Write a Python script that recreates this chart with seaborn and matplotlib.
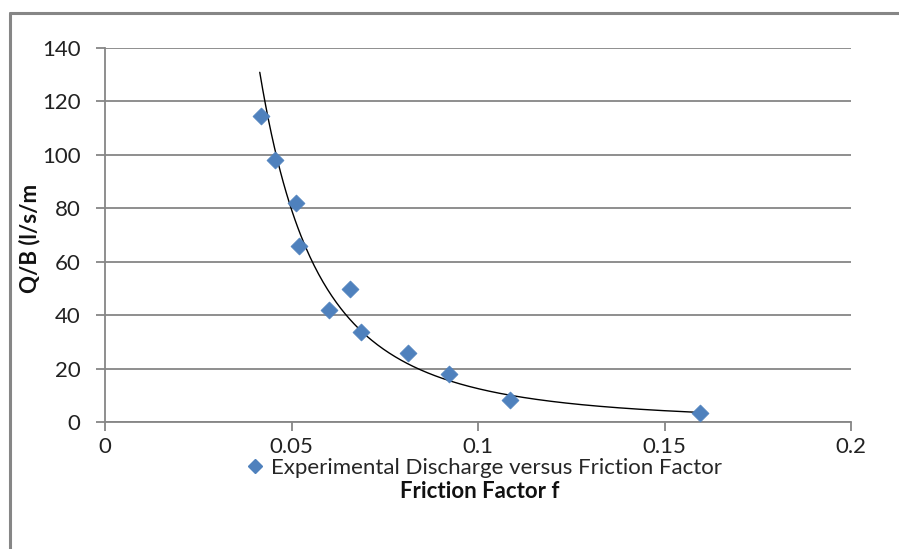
import numpy as np
import pandas as pd
import matplotlib
matplotlib.use("Agg")
import matplotlib.pyplot as plt
import seaborn as sns
from matplotlib.lines import Line2D

friction_factor = [0.0417, 0.0455, 0.0513, 0.0521, 0.0600, 0.0656, 0.0685, 0.0811, 0.0922, 0.1086, 0.1595]
discharge = [114.5, 98.0, 81.8, 66.0, 42.0, 49.6, 33.8, 25.9, 18.0, 8.4, 3.3]
x_ticks = [0, 0.05, 0.1, 0.15, 0.2]
x_tick_labels = ["0", "0.05", "0.1", "0.15", "0.2"]
y_ticks = [0, 20, 40, 60, 80, 100, 120, 140]
series_name = "Experimental Discharge versus Friction Factor"
x_title = "Friction Factor f"
y_title = "Q/B (l/s/m"

sns.set_style("white")
plt.rcParams['font.family'] = ['Lato', 'DejaVu Sans']

df = pd.DataFrame({"f": friction_factor, "q": discharge})

W, H = 899, 549
fig = plt.figure(figsize=(W / 100, H / 100), dpi=100)
ax = fig.add_axes([105 / W, 1 - 422 / H, (851 - 105) / W, (422 - 48) / H])

grey = "#868686"
blue = "#4F81BD"

# power trendline fitted to data (like Excel power trendline)
b, loga = np.polyfit(np.log(df["f"]), np.log(df["q"]), 1)
xt = np.linspace(df["f"].min() * 0.995, df["f"].max(), 300)
yt = np.exp(loga) * xt ** b
ax.plot(xt, yt, color="black", lw=1.0, zorder=2)

sns.scatterplot(data=df, x="f", y="q", marker="D", s=75, color=blue,
                edgecolor=blue, linewidth=0.5, ax=ax, zorder=3, legend=False)

ax.set_xlim(0, 0.2)
ax.set_ylim(0, 140)
ax.set_xticks(x_ticks)
ax.set_xticklabels(x_tick_labels)
ax.set_yticks(y_ticks)
ax.yaxis.grid(True, color=grey, lw=1.3)
ax.xaxis.grid(False)
for side in ["top", "right"]:
    ax.spines[side].set_visible(False)
for side in ["left", "bottom"]:
    ax.spines[side].set_color(grey)
    ax.spines[side].set_linewidth(1.3)
ax.tick_params(axis="both", which="major", direction="out", length=6.5, width=1.3,
               color=grey, labelsize=16, labelcolor="#222222", bottom=True, left=True)
ax.tick_params(axis="x", pad=4)
ax.tick_params(axis="y", pad=11)
ax.set_xlabel("")
ax.set_ylabel("")
ax.set_axisbelow(True)

fig.text(30 / W, 1 - 238 / H, y_title, rotation=90, ha="center", va="center",
         fontsize=16, fontweight="bold", color="#111111")
fig.text(480 / W, 1 - 491 / H, x_title, ha="center", va="center",
         fontsize=16, fontweight="bold", color="#111111")

handle = Line2D([], [], marker="D", linestyle="none", markersize=7,
                markerfacecolor=blue, markeredgecolor=blue)
fig.legend([handle], [series_name], loc="center", bbox_to_anchor=(483 / W, 1 - 468 / H),
           frameon=False, fontsize=16, handletextpad=0.2, handlelength=1.0,
           borderaxespad=0, borderpad=0)

# outer chart border (left and top visible)
fig.add_artist(Line2D([10 / W, 10 / W], [0, 1 - 13 / H], color=grey, lw=2.2,
                      transform=fig.transFigure))
fig.add_artist(Line2D([10 / W, 1], [1 - 13 / H, 1 - 13 / H], color=grey, lw=2.2,
                      transform=fig.transFigure))

fig.savefig("out.png", dpi=100)
